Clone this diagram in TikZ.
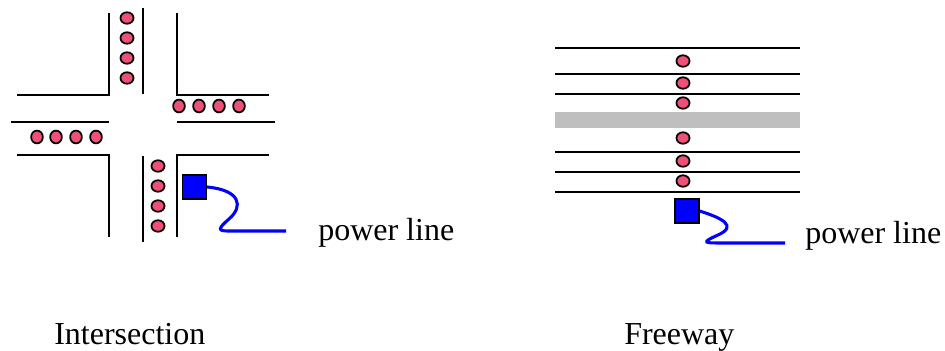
\documentclass[tikz,border=0pt]{standalone}
\usepackage{fontspec}
\setmainfont{Liberation Serif}
\usetikzlibrary{shapes}
\definecolor{carred}{rgb}{0.94, 0.31, 0.47}
\definecolor{wireblue}{rgb}{0.0, 0.0, 1.0}
\tikzset{
	car/.style     = {draw, ellipse, fill = carred, line width = 1.3pt,
		inner sep = 0pt, minimum width = 9.8pt, minimum height = 8.6pt},
	carup/.style   = {car, minimum width = 8.8pt, minimum height = 9.6pt},
	detector/.style = {draw, rectangle, fill = wireblue, line width = 0.8pt,
		inner sep = 0pt, minimum size = 18pt},
	road/.style    = {line width = 1.5pt},
	wire/.style    = {wireblue, line width = 2.3pt},
	caption/.style = {anchor = base west, inner sep = 0pt, font = \fontsize{24}{28}\selectfont}
}

\begin{document}
\begin{tikzpicture}[x = 0.75pt, y = -0.75pt]
	\useasboundingbox (0,0) rectangle (945,350);
	
	% Intersection roads
	\draw[road] (17,95) -- (109,95) -- (109,13);
	\draw[road] (177,13) -- (177,95) -- (269,95);
	\draw[road] (17,155) -- (109,155) -- (109,237);
	\draw[road] (177,237) -- (177,155) -- (269,155);
	\draw[road] (143,8) -- (143,94);
	\draw[road] (143,156) -- (143,242);
	\draw[road] (11,122) -- (109,122);
	\draw[road] (177,122) -- (275,122);
	
	% Intersection cars
	\foreach \y [count=\i] in {18,38,58,78}
		\node[car] (n\i) at (127,\y) {};
	\foreach \y [count=\i] in {166,186,206,226}
		\node[car] (s\i) at (158,\y) {};
	\foreach \x [count=\i] in {179,199,219,239}
		\node[carup] (e\i) at (\x,106) {};
	\foreach \x [count=\i] in {37,56,76,96}
		\node[carup] (w\i) at (\x,137) {};
	
	% Intersection detector
	\node[detector] (det1) at (194.5,187) {};
	\coordinate (end1) at (286,231);
	\draw[wire] (det1.east) .. controls (240,190) and (244,206) .. (229,219)
		.. controls (214,232) and (220,231) .. (236,231) -- (end1);
	\node[caption] (pl1) at (318,240) {power line};
	\node[caption] (cap1) at (54,344) {Intersection};
	
	% Freeway lanes
	\fill[gray!50] (555,112) rectangle (800,128);
	\foreach \y in {48,74,94,152,172,192}
		\draw[road] (555,\y) -- (800,\y);
	
	% Freeway cars
	\foreach \y [count=\i] in {61,83,103,138,161,181}
		\node[car] (f\i) at (683,\y) {};
	
	% Freeway detector
	\node[detector] (det2) at (687,211) {};
	\coordinate (end2) at (785,243);
	\draw[wire] (det2.east) .. controls (722,218) and (738,226) .. (718,235)
		.. controls (700,243) and (705,243) .. (722,243) -- (end2);
	\node[caption] (pl2) at (805,243) {power line};
	\node[caption] (cap2) at (624,344) {Freeway};
	
\end{tikzpicture}
\end{document}
